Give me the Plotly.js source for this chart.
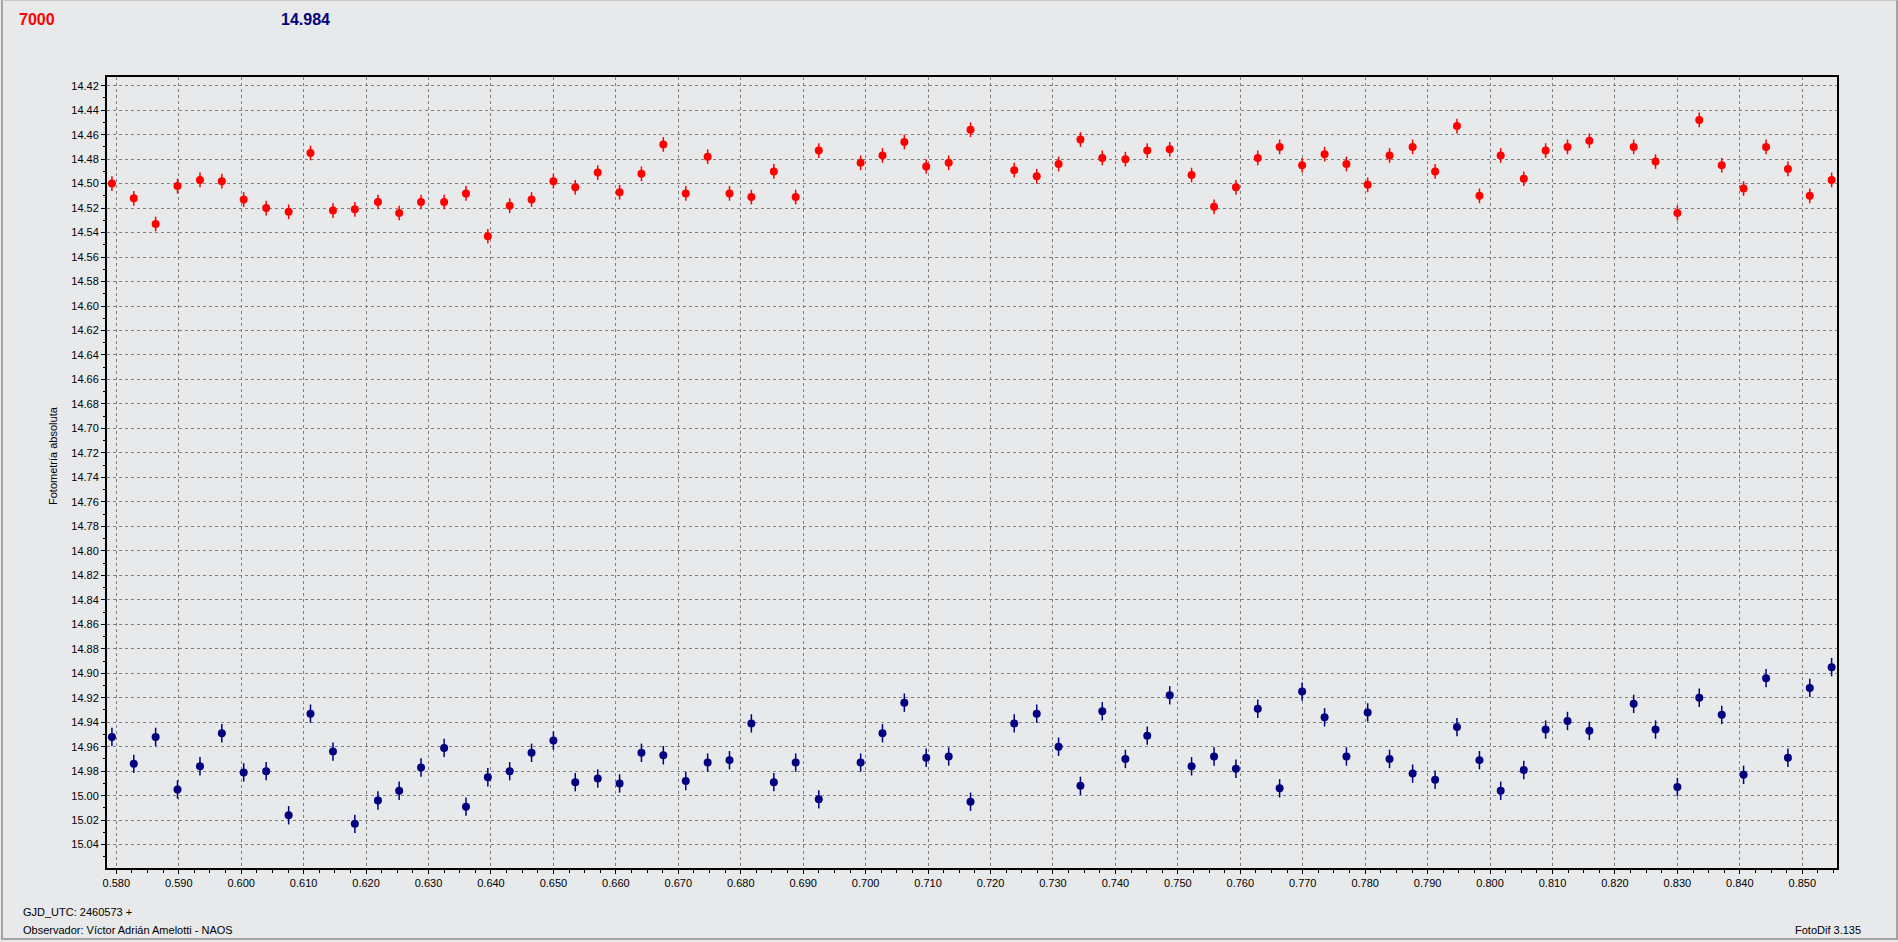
<!DOCTYPE html>
<html>
<head>
<meta charset="utf-8">
<script src="https://cdn.plot.ly/plotly-3.0.1.min.js"></script>
<style>
  html, body { margin: 0; padding: 0; background: #e8e9ea; }
  #wrap { position: relative; width: 1898px; height: 942px; }
  #chart { width: 1898px; height: 942px; }
  #frame { position: absolute; left: 1px; top: 0px; width: 1893px; height: 937px;
           border: 2px solid #a3a3a3; border-top: 1px solid #c8c8c8; pointer-events: none; }
</style>
</head>
<body>
<div id="wrap">
  <div id="chart"></div>
  <div id="frame"></div>
</div>
<script>
// GJD_UTC - 2460573
const gjd = [
  0.5793, 0.5828, 0.5863, 0.5898, 0.5934, 0.5969, 0.6004, 0.6040, 0.6076, 0.6111,
  0.6147, 0.6182, 0.6219, 0.6253, 0.6288, 0.6325, 0.6360, 0.6395, 0.6430, 0.6465,
  0.6500, 0.6535, 0.6571, 0.6606, 0.6641, 0.6676, 0.6712,
  0.6747, 0.6782, 0.6817, 0.6853, 0.6888, 0.6925, 0.6992, 0.7027, 0.7062, 0.7097,
  0.7133, 0.7168, 0.7238, 0.7274, 0.7309, 0.7344, 0.7379, 0.7416, 0.7451, 0.7487,
  0.7522, 0.7558, 0.7593, 0.7628, 0.7663,
  0.7699, 0.7735, 0.7770, 0.7804, 0.7839, 0.7876, 0.7912, 0.7947, 0.7983, 0.8017,
  0.8054, 0.8089, 0.8124, 0.8159, 0.8230, 0.8265, 0.8300, 0.8335, 0.8371, 0.8406,
  0.8442, 0.8477, 0.8512, 0.8547
];
// Object (red) absolute photometry
const magRed = [
  14.500, 14.512, 14.533, 14.502, 14.497, 14.498, 14.513, 14.520, 14.523, 14.475,
  14.522, 14.521, 14.515, 14.524, 14.515, 14.515, 14.508, 14.543, 14.518, 14.513,
  14.498, 14.503, 14.491, 14.507, 14.492, 14.468, 14.508,
  14.478, 14.508, 14.511, 14.490, 14.511, 14.473, 14.483, 14.477, 14.466, 14.486,
  14.483, 14.456, 14.489, 14.494, 14.484, 14.464, 14.479, 14.480, 14.473, 14.472,
  14.493, 14.519, 14.503, 14.479, 14.470,
  14.485, 14.476, 14.484, 14.501, 14.477, 14.470, 14.490, 14.453, 14.510, 14.477,
  14.496, 14.473, 14.470, 14.465, 14.470, 14.482, 14.524, 14.448, 14.485, 14.504,
  14.470, 14.488, 14.510, 14.497
];
// Comparison (navy) absolute photometry
const magBlue = [
  14.952, 14.974, 14.952, 14.995, 14.976, 14.949, 14.981, 14.980, 15.016, 14.933,
  14.964, 15.023, 15.004, 14.996, 14.977, 14.961, 15.009, 14.985, 14.980, 14.965,
  14.955, 14.989, 14.986, 14.990, 14.965, 14.967, 14.988,
  14.973, 14.971, 14.941, 14.989, 14.973, 15.003, 14.973, 14.949, 14.924, 14.969,
  14.968, 15.005, 14.941, 14.933, 14.960, 14.992, 14.931, 14.970, 14.951, 14.918,
  14.976, 14.968, 14.978, 14.929, 14.994,
  14.915, 14.936, 14.968, 14.932, 14.970, 14.982, 14.987, 14.944, 14.971, 14.996,
  14.979, 14.946, 14.939, 14.947, 14.925, 14.946, 14.993, 14.920, 14.934, 14.983,
  14.904, 14.969, 14.912, 14.895
];
const errRed = 0.006;
const errBlue = 0.0075;
const labelRed = "7000";
const labelBlue = "14.984";
const yTitle = "Fotometría absoluta";
const footLeft1 = "GJD_UTC: 2460573 +";
const footLeft2 = "Observador: Víctor Adrián Amelotti - NAOS";
const footRight = "FotoDif 3.135";

const FONT = "Liberation Sans, Arial, sans-serif";
const BG = "#e8e9ea";

const traces = [
  {
    x: gjd, y: magRed, type: "scatter", mode: "markers",
    marker: { color: "#ff0000", size: 8, symbol: "circle", line: { width: 0 } },
    error_y: { type: "constant", value: errRed, color: "#ff0000", thickness: 1.5, width: 0 },
    hoverinfo: "skip", showlegend: false
  },
  {
    x: gjd, y: magBlue, type: "scatter", mode: "markers",
    marker: { color: "#000080", size: 8, symbol: "circle", line: { width: 0 } },
    error_y: { type: "constant", value: errBlue, color: "#000080", thickness: 1.5, width: 0 },
    hoverinfo: "skip", showlegend: false
  }
];

function px(xp) { return (xp - 107) / 1730; }
function py(yp) { return (868 - yp) / 791; }

const layout = {
  width: 1898, height: 942,
  paper_bgcolor: BG, plot_bgcolor: BG,
  margin: { l: 107, r: 61, t: 77, b: 74 },
  font: { family: FONT, size: 11, color: "#000000" },
  showlegend: false,
  xaxis: {
    range: [0.57851, 0.85556],
    tick0: 0.58, dtick: 0.01, tickformat: ".3f",
    ticks: "outside", ticklen: 4, tickcolor: "#000",
    minor: { dtick: 0.0025, ticks: "outside", ticklen: 3, tickcolor: "#000", showgrid: false },
    showgrid: true, gridcolor: "#7f7f7f", gridwidth: 1, griddash: "3px,3px",
    showline: true, linecolor: "#000", linewidth: 2, mirror: true,
    zeroline: false,
    tickfont: { family: FONT, size: 11, color: "#000" }
  },
  yaxis: {
    range: [15.0591, 14.4129],
    tick0: 14.42, dtick: 0.02, tickformat: ".2f",
    ticks: "outside", ticklen: 4, tickcolor: "#000",
    minor: { dtick: 0.01, ticks: "outside", ticklen: 2, tickcolor: "#000", showgrid: false },
    showgrid: true, gridcolor: "#7f7f7f", gridwidth: 1, griddash: "3px,3px",
    showline: true, linecolor: "#000", linewidth: 2, mirror: true,
    zeroline: false,
    tickfont: { family: FONT, size: 11, color: "#000" }
  },
  annotations: [
    { text: "<b>" + labelRed + "</b>", xref: "paper", yref: "paper", x: px(17), y: py(19),
      xanchor: "left", yanchor: "middle", showarrow: false,
      font: { family: FONT, size: 16, color: "#ff0000" } },
    { text: "<b>" + labelBlue + "</b>", xref: "paper", yref: "paper", x: px(279), y: py(19),
      xanchor: "left", yanchor: "middle", showarrow: false,
      font: { family: FONT, size: 16, color: "#000080" } },
    { text: yTitle, xref: "paper", yref: "paper", x: px(53), y: py(456),
      xanchor: "center", yanchor: "middle", textangle: -90, showarrow: false,
      font: { family: FONT, size: 11, color: "#000" } },
    { text: footLeft1, xref: "paper", yref: "paper", x: px(21), y: py(912),
      xanchor: "left", yanchor: "middle", showarrow: false,
      font: { family: FONT, size: 11, color: "#000" } },
    { text: footLeft2, xref: "paper", yref: "paper", x: px(21), y: py(930),
      xanchor: "left", yanchor: "middle", showarrow: false,
      font: { family: FONT, size: 11, color: "#000" } },
    { text: footRight, xref: "paper", yref: "paper", x: px(1863), y: py(930),
      xanchor: "right", yanchor: "middle", showarrow: false,
      font: { family: FONT, size: 11, color: "#000" } }
  ]
};

Plotly.newPlot("chart", traces, layout, { staticPlot: true, displayModeBar: false });
</script>
</body>
</html>
